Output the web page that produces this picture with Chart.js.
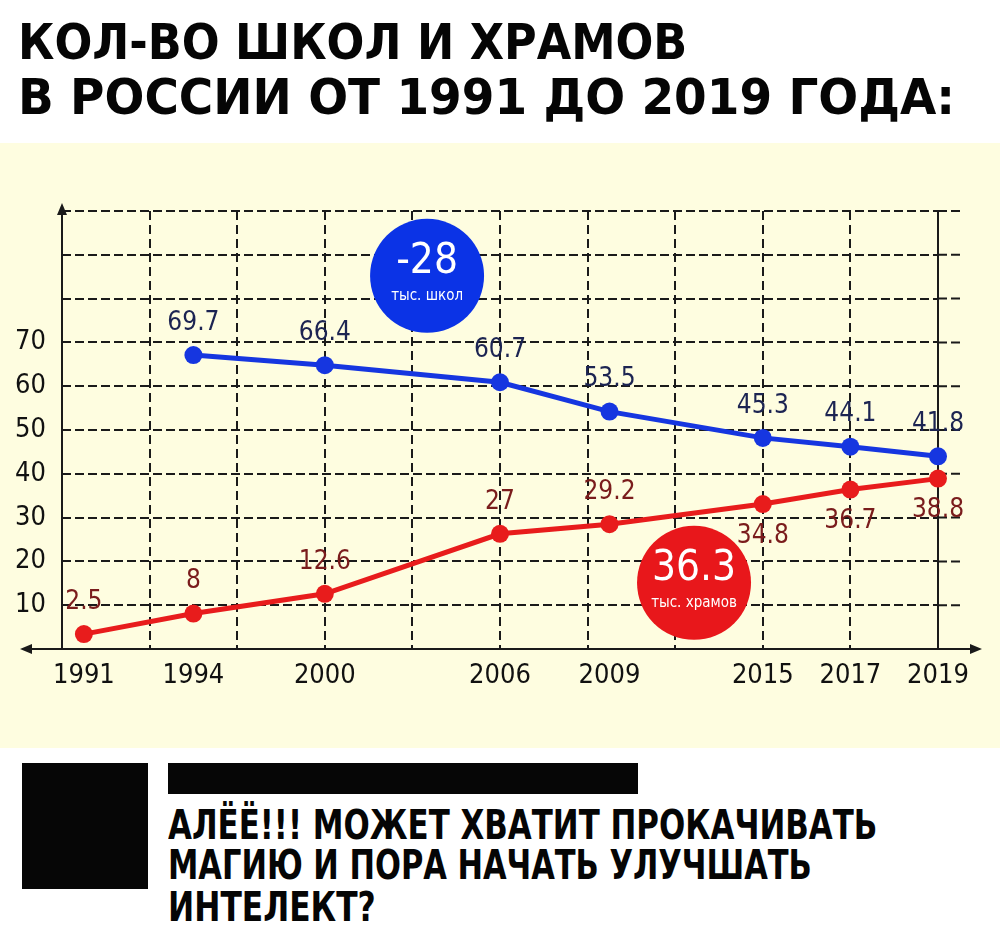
<!DOCTYPE html>
<html>
<head>
<meta charset="utf-8">
<title>Кол-во школ и храмов</title>
<script src="https://cdn.jsdelivr.net/npm/chart.js@4"></script>
<style>
  body { margin: 0; background: #fff; width: 1000px; height: 941px; overflow: hidden; position: relative;
         font-family: 'DejaVu Sans Condensed', 'DejaVu Sans', sans-serif; }
  .line { position: absolute; left: 18px; white-space: nowrap; font-weight: bold; line-height: 1;
          transform-origin: 0 0; color: #050505; }
  .t { font-size: 49px; }
  .b { font-size: 40px; left: 168px; }
  #plot { position: absolute; left: 0; top: 143px; width: 1000px; height: 605px; background: #fefde0; }
  .box { position: absolute; background: #060606; }
</style>
</head>
<body>
<div class="line t" style="top:18px" data-w="669">КОЛ-ВО ШКОЛ И ХРАМОВ</div>
<div class="line t" style="top:73px" data-w="937">В РОССИИ ОТ 1991 ДО 2019 ГОДА:</div>

<div id="plot"><canvas id="chart"></canvas></div>

<div class="box" style="left:22px;top:763px;width:126px;height:126px"></div>
<div class="box" style="left:168px;top:763px;width:470px;height:31px"></div>
<div class="line b" style="top:805px" data-w="709">АЛЁЁ!!! МОЖЕТ ХВАТИТ ПРОКАЧИВАТЬ</div>
<div class="line b" style="top:845px" data-w="644">МАГИЮ И ПОРА НАЧАТЬ УЛУЧШАТЬ</div>
<div class="line b" style="top:887px" data-w="208">ИНТЕЛЕКТ?</div>

<script>
// подгоняем ширину строк заголовка
document.querySelectorAll('.line').forEach(function (el) {
  el.style.transform = 'scaleX(' + (el.dataset.w / el.offsetWidth) + ')';
});

const FONT = "'DejaVu Sans Condensed', 'DejaVu Sans', sans-serif";

// ось X: клетки сетки, подписаны только годы
const tickLabels = ['', '1991', '', '', '', '', '1994', '', '', '', '', '', '2000', '', '', '', '', '', '', '',
  '2006', '', '', '', '', '2009', '', '', '', '', '', '', '2015', '', '', '', '2017', '', '', '', '2019'];
const yTicks = [10, 20, 30, 40, 50, 60, 70];

const years = ['1991', '1994', '2000', '2006', '2009', '2015', '2017', '2019'];
const schools = [null, 67.1, 64.8, 60.9, 54.2, 48.2, 46.2, 44.0];
const schoolText = [null, '69.7', '66.4', '60.7', '53.5', '45.3', '44.1', '41.8'];
const temples = [3.4, 8.1, 12.6, 26.3, 28.5, 33.1, 36.4, 38.9];
const templeText = ['2.5', '8', '12.6', '27', '29.2', '34.8', '36.7', '38.8'];

function points(values, texts) {
  const out = [];
  years.forEach(function (yr, i) {
    if (values[i] !== null) out.push({x: yr, y: values[i], label: texts[i]});
  });
  return out;
}

const badges = [
  {x: 16.67, y: 85.2, color: '#0b33e6', big: '-28', small: 'тыс. школ'},
  {x: 28.86, y: 15.1, color: '#e8171b', big: '36.3', small: 'тыс. храмов'}
];

const decor = {
  id: 'decor',
  beforeDatasetsDraw(chart) {
    const ctx = chart.ctx, a = chart.chartArea, x = chart.scales.x, y = chart.scales.y;
    ctx.save();
    ctx.strokeStyle = '#1a1a1a';
    ctx.fillStyle = '#1a1a1a';
    ctx.lineWidth = 2;
    ctx.setLineDash([9, 4]);
    for (let v = 10; v <= 100; v += 10) {
      const py = y.getPixelForValue(v);
      ctx.beginPath(); ctx.moveTo(a.right, py); ctx.lineTo(a.right + 22, py); ctx.stroke();
    }
    ctx.setLineDash([]);
    ctx.beginPath(); ctx.moveTo(a.right, a.top); ctx.lineTo(a.right, a.bottom); ctx.stroke();

    const y0 = y.getPixelForValue(0);
    ctx.beginPath();
    ctx.moveTo(a.left - 36, y0); ctx.lineTo(a.right + 36, y0);
    ctx.moveTo(a.left, y0); ctx.lineTo(a.left, a.top - 4);
    ctx.stroke();
    ctx.beginPath();
    ctx.moveTo(a.left - 42, y0); ctx.lineTo(a.left - 30, y0 - 5); ctx.lineTo(a.left - 30, y0 + 5);
    ctx.moveTo(a.right + 44, y0); ctx.lineTo(a.right + 32, y0 - 5); ctx.lineTo(a.right + 32, y0 + 5);
    ctx.moveTo(a.left, a.top - 8); ctx.lineTo(a.left - 5, a.top + 4); ctx.lineTo(a.left + 5, a.top + 4);
    ctx.fill();

    badges.forEach(function (b) {
      const cx = x.getPixelForValue(b.x), cy = y.getPixelForValue(b.y);
      ctx.fillStyle = b.color;
      ctx.beginPath(); ctx.arc(cx, cy, 57, 0, Math.PI * 2); ctx.fill();
      ctx.fillStyle = '#fff';
      ctx.textAlign = 'center';
      ctx.textBaseline = 'middle';
      ctx.font = '42px ' + FONT;
      ctx.fillText(b.big, cx, cy - 14);
      ctx.font = '15px ' + FONT;
      ctx.fillText(b.small, cx, cy + 20);
    });
    ctx.restore();
  },
  afterDatasetsDraw(chart) {
    const ctx = chart.ctx;
    ctx.save();
    ctx.font = '26px ' + FONT;
    ctx.textAlign = 'center';
    ctx.textBaseline = 'middle';
    chart.data.datasets.forEach(function (ds, di) {
      chart.getDatasetMeta(di).data.forEach(function (pt, i) {
        const p = ds.data[i];
        const below = ds.below.indexOf(p.x) !== -1;
        ctx.fillStyle = ds.textColor;
        ctx.fillText(p.label, pt.x, pt.y + (below ? 32 : -32));
      });
    });
    ctx.restore();
  }
};

new Chart(document.getElementById('chart'), {
  type: 'line',
  data: {
    labels: tickLabels,
    datasets: [{
      label: 'Школы, тыс.',
      data: points(schools, schoolText),
      borderColor: '#1636e0',
      backgroundColor: '#1636e0',
      textColor: '#1c2452',
      below: []
    }, {
      label: 'Храмы, тыс.',
      data: points(temples, templeText),
      borderColor: '#e81c1c',
      backgroundColor: '#e81c1c',
      textColor: '#7a1c1c',
      below: ['2015', '2017', '2019']
    }]
  },
  options: {
    responsive: true,
    maintainAspectRatio: false,
    animation: false,
    events: [],
    layout: { padding: { top: 68, right: 62, bottom: 49, left: 0 } },
    elements: {
      line: { borderWidth: 5, tension: 0 },
      point: { radius: 9, borderWidth: 0 }
    },
    datasets: { line: { clip: false } },
    scales: {
      x: {
        type: 'category',
        offset: false,
        afterFit: function (s) { s.height = 50; },
        grid: {
          color: function (c) { return c.index % 4 === 0 ? '#1a1a1a' : 'rgba(0,0,0,0)'; },
          lineWidth: 2,
          drawTicks: false
        },
        border: { display: false, dash: [9, 5] },
        ticks: { autoSkip: false, maxRotation: 0, padding: 11, color: '#111', font: { family: FONT, size: 27 } }
      },
      y: {
        min: 0,
        max: 100,
        afterFit: function (s) { s.width = 62; },
        grid: { color: '#1a1a1a', lineWidth: 2, drawTicks: false },
        border: { display: false, dash: [9, 4] },
        ticks: {
          stepSize: 10,
          padding: 16,
          color: '#111',
          font: { family: FONT, size: 27 },
          callback: function (v) { return yTicks.indexOf(v) !== -1 ? String(v) : ''; }
        }
      }
    },
    plugins: {
      legend: { display: false },
      tooltip: { enabled: false }
    }
  },
  plugins: [decor]
});
</script>
</body>
</html>
